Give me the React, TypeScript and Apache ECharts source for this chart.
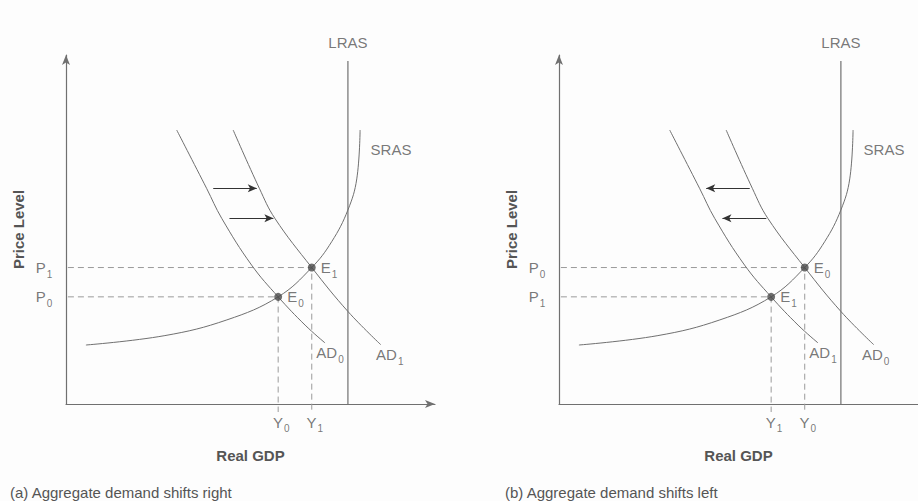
import React, { useEffect, useRef } from 'react';
import * as echarts from 'echarts';

const FONT = '"Liberation Sans", Arial, Helvetica, sans-serif';
const TEXT = '#555555';
const LINE = '#707070';
const DASH = '#9a9a9a';
const DOT = '#4a4a4a';

// Curves in abstract data units (0..100 on both axes)
const srasCurve = [[5.4, 16.9], [26.8, 19.6], [43.6, 24.1], [57.5, 30.7], [66.6, 39.1], [72.0, 46.5], [76.4, 55.6], [78.8, 64.5], [79.7, 78.5]];
const adLeftCurve = [[30.0, 78.5], [38.1, 61.8], [42.2, 53.2], [50.3, 39.8], [57.5, 30.7], [64.8, 22.6], [70.2, 17.5]];
const adRightCurve = [[45.3, 78.5], [52.4, 61.8], [56.6, 53.2], [66.6, 39.1], [76.5, 26.4], [85.3, 17.0]];
const lrasX = 76.4;
const lrasTop = 98.3;
const eqLeft = [57.5, 30.7];
const eqRight = [66.6, 39.1];
const guideStartX = -2.2;
const guideEndY = -2.3;
// shift arrows: [xFrom, xTo, y] for panel (a); panel (b) reverses direction
const shiftArrows = [[39.9, 51.7, 61.8], [44.3, 56.2, 53.2]];

const captions = ['(a) Aggregate demand shifts right', '(b) Aggregate demand shifts left'];
const leftSub = ['0', '1'];
const rightSub = ['1', '0'];
const shiftDir = [1, -1];
const adRightLabelOffset = [9, 2];

const gridLefts = [66, 559];
const gridWidths = [369, 359];
const xMaxes = [100, 97.3];
const xArrow = [true, false];

const rich = {
  m: { fontSize: 15, color: TEXT, fontFamily: FONT, lineHeight: 15, padding: [0, 0, 4, 0] },
  s: { fontSize: 10, color: TEXT, fontFamily: FONT, lineHeight: 10, padding: [9, 0, 0, 1] },
};
const sub = (main: string, s: string) => `{m|${main}}{s|${s}}`;

function lbl(value: number[], formatter: string, extra: any) {
  return {
    value,
    label: { show: true, formatter, rich, ...extra },
  };
}

export default function App() {
  const ref = useRef<HTMLDivElement>(null);
  useEffect(() => {
    if (!ref.current) return;
    const chart = echarts.init(ref.current, null, { renderer: 'svg' });
    const series: any[] = [];
    gridLefts.forEach((_, i) => {
      const ax = { xAxisIndex: i, yAxisIndex: i };
      const lineBase = { ...ax, type: 'line', symbol: 'none', silent: true, clip: false, smooth: 0.4 };
      series.push({
        ...lineBase,
        name: 'SRAS',
        data: srasCurve,
        lineStyle: { color: LINE, width: 1 },
        markLine: {
          silent: true,
          symbol: ['none', 'arrow'],
          symbolSize: [6, 9],
          label: { show: false },
          lineStyle: { color: '#333', width: 1, type: 'solid' },
          data: shiftArrows.map((a) => {
            const from = shiftDir[i] > 0 ? a[0] : a[1];
            const to = shiftDir[i] > 0 ? a[1] : a[0];
            return [{ coord: [from, a[2]] }, { coord: [to, a[2]] }];
          }),
        },
      });
      series.push({ ...lineBase, name: 'ADL', data: adLeftCurve, lineStyle: { color: LINE, width: 1 } });
      series.push({ ...lineBase, name: 'ADR', data: adRightCurve, lineStyle: { color: LINE, width: 1 } });
      series.push({ ...lineBase, smooth: false, name: 'LRAS', data: [[lrasX, 0], [lrasX, lrasTop]], lineStyle: { color: LINE, width: 1.2 } });
      [eqLeft, eqRight].forEach((e) => {
        series.push({
          ...lineBase,
          smooth: false,
          data: [[guideStartX, e[1]], [e[0], e[1]], [e[0], guideEndY]],
          lineStyle: { color: DASH, width: 1, type: [6, 4] },
          z: 1,
        });
      });
      // equilibrium points
      series.push({
        ...ax,
        type: 'scatter',
        silent: true,
        clip: false,
        symbolSize: 8,
        itemStyle: { color: DOT },
        z: 5,
        data: [
          lbl(eqLeft, sub('E', leftSub[i]), { position: 'right', distance: 5, offset: [0, 2] }),
          lbl(eqRight, sub('E', rightSub[i]), { position: 'right', distance: 5, offset: [0, 2] }),
        ],
      });
      // text labels anchored to data
      series.push({
        ...ax,
        type: 'scatter',
        silent: true,
        clip: false,
        symbolSize: 1,
        itemStyle: { color: 'rgba(0,0,0,0)' },
        data: [
          lbl([lrasX, lrasTop], '{m|LRAS}', { position: 'top', distance: 8 }),
          lbl(srasCurve[srasCurve.length - 1], '{m|SRAS}', { position: 'right', distance: 10, offset: [0, 21] }),
          lbl(adLeftCurve[adLeftCurve.length - 1], sub('AD', leftSub[i]), { position: 'bottom', distance: 4, offset: [5, 0] }),
          lbl(adRightCurve[adRightCurve.length - 1], sub('AD', rightSub[i]), { position: 'bottom', distance: 4, offset: [adRightLabelOffset[i], 0] }),
          lbl([guideStartX, eqLeft[1]], sub('P', leftSub[i]), { position: 'left', distance: 5, offset: [0, 2] }),
          lbl([guideStartX, eqRight[1]], sub('P', rightSub[i]), { position: 'left', distance: 5, offset: [0, 2] }),
          lbl([eqLeft[0], guideEndY], sub('Y', leftSub[i]), { position: 'bottom', distance: 4, offset: [3, 0] }),
          lbl([eqRight[0], guideEndY], sub('Y', rightSub[i]), { position: 'bottom', distance: 4, offset: [3, 0] }),
        ],
      });
    });

    const axisCommon = {
      type: 'value',
      min: 0,
      axisTick: { show: false },
      axisLabel: { show: false },
      splitLine: { show: false },
      nameLocation: 'middle',
      nameTextStyle: { fontSize: 15, fontWeight: 'bold', color: TEXT, fontFamily: FONT },
    };

    chart.setOption({
      animation: false,
      backgroundColor: '#fdfdfd',
      title: captions.map((t, i) => ({
        text: t,
        left: i === 0 ? 10 : 505,
        top: 485,
        padding: 0,
        textStyle: { fontSize: 15, fontWeight: 'normal', color: TEXT, fontFamily: FONT },
      })),
      grid: gridLefts.map((l, i) => ({ left: l, top: 55, width: gridWidths[i], height: 349 })),
      xAxis: gridLefts.map((_, i) => ({
        ...axisCommon,
        gridIndex: i,
        max: xMaxes[i],
        name: 'Real GDP',
        nameGap: 44,
        axisLine: {
          show: true,
          onZero: false,
          symbol: xArrow[i] ? ['none', 'arrow'] : ['none', 'none'],
          symbolSize: [6, 10],
          lineStyle: { color: LINE, width: 1.2 },
        },
      })),
      yAxis: gridLefts.map((_, i) => ({
        ...axisCommon,
        gridIndex: i,
        max: 100,
        name: 'Price Level',
        nameGap: 40,
        nameRotate: 90,
        axisLine: { show: true, onZero: false, symbol: ['none', 'arrow'], symbolSize: [6, 10], lineStyle: { color: LINE, width: 1.2 } },
      })),
      series,
    });
    return () => chart.dispose();
  }, []);
  return <div ref={ref} style={{ position: 'fixed', left: 0, top: 0, width: 918, height: 501 }} />;
}
